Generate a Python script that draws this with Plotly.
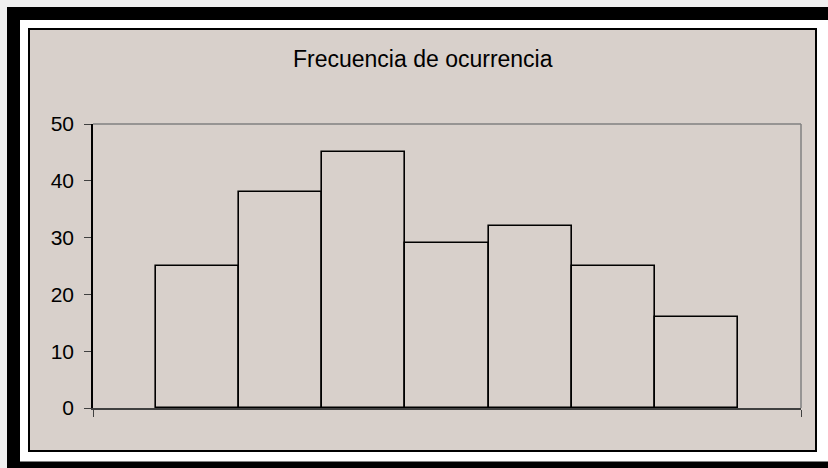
import plotly.graph_objects as go

# Data
categories = ["1", "2", "3", "4", "5", "6", "7"]
values = [25, 38, 45, 29, 32, 25, 16]
y_ticks = [0, 10, 20, 30, 40, 50]
title_text = "Frecuencia de ocurrencia"

W, H = 828, 468
L, R, T, B = 93, 801, 124, 408  # plot area in px

def xp(px):
    return (px - L) / (R - L)

def yp(py):
    return (B - py) / (B - T)

BEIGE = "#d8d0cb"
FONT = "Liberation Sans, Arial, sans-serif"

xpos = list(range(len(categories)))
pad = 0.757
x_range = [-0.5 - pad, len(categories) - 0.5 + pad]

fig = go.Figure()
fig.add_trace(go.Bar(
    x=xpos, y=values, width=1,
    marker=dict(color="rgba(0,0,0,0)", line=dict(color="#000000", width=1.6)),
    hoverinfo="skip", showlegend=False,
))

shapes = [
    # black outer band
    dict(type="rect", xref="paper", yref="paper", layer="below",
         x0=xp(7), x1=xp(840), y0=yp(7), y1=yp(480),
         fillcolor="#000000", line=dict(width=0)),
    # white gap
    dict(type="rect", xref="paper", yref="paper", layer="below",
         x0=xp(20), x1=xp(840), y0=yp(20), y1=yp(461.5),
         fillcolor="#ffffff", line=dict(width=0)),
    # beige chart area with black border
    dict(type="rect", xref="paper", yref="paper", layer="below",
         x0=xp(29), x1=xp(816), y0=yp(29), y1=yp(451),
         fillcolor=BEIGE, line=dict(color="#000000", width=2)),
    # gray top and right plot border
    dict(type="line", xref="paper", yref="paper", layer="above",
         x0=0, x1=1, y0=1, y1=1, line=dict(color="#808080", width=1.5)),
    dict(type="line", xref="paper", yref="paper", layer="above",
         x0=1, x1=1, y0=0, y1=1, line=dict(color="#808080", width=1.5)),
]

fig.update_layout(
    width=W, height=H,
    margin=dict(l=L, r=W - R, t=T, b=H - B, pad=0),
    paper_bgcolor="#f0f0f0",
    plot_bgcolor="rgba(0,0,0,0)",
    bargap=0,
    shapes=shapes,
    font=dict(family=FONT, color="#000000"),
    xaxis=dict(
        range=x_range, showgrid=False, zeroline=False,
        showline=True, linecolor="#404040", linewidth=1.5,
        ticks="outside", ticklen=7, tickcolor="#404040", tickwidth=1.2,
        tickvals=x_range, showticklabels=False, fixedrange=True,
    ),
    yaxis=dict(
        range=[0, 50], showgrid=False, zeroline=False,
        showline=True, linecolor="#000000", linewidth=1.5,
        ticks="outside", ticklen=7, tickcolor="#404040", tickwidth=1.2,
        tickvals=y_ticks, ticklabelstandoff=6,
        tickfont=dict(size=21, family=FONT, color="#000000"),
        fixedrange=True,
    ),
    annotations=[dict(
        text=title_text, xref="paper", yref="paper",
        x=xp(423), y=yp(59), xanchor="center", yanchor="middle",
        showarrow=False, font=dict(size=23, family=FONT, color="#000000"),
    )],
)

fig.write_html("out.html")
